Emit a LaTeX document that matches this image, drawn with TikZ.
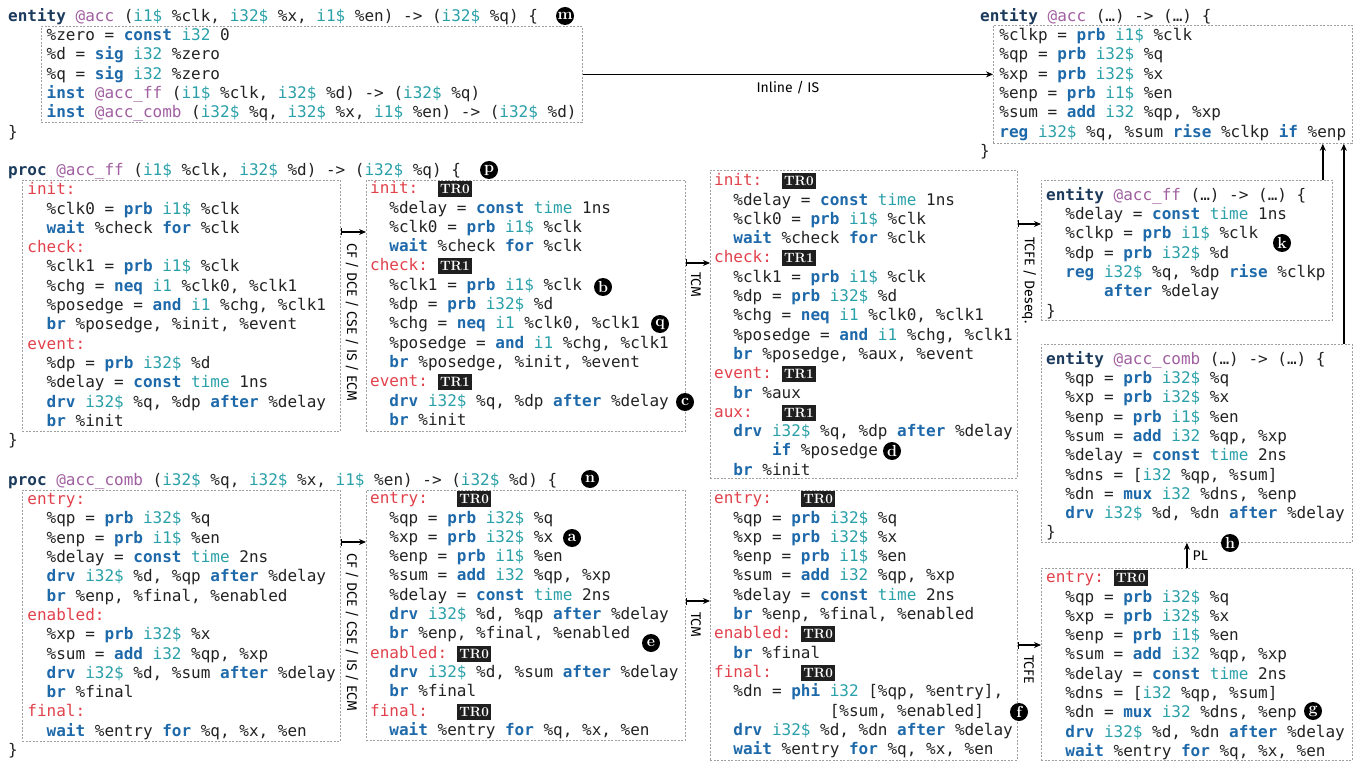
\documentclass[tikz,border=0pt]{standalone}
\usepackage{fontspec}
\usepackage{xcolor}
\usetikzlibrary{arrows.meta,positioning,calc}
\newfontfamily\codefont{DejaVu Sans Mono}
\newfontfamily\passfont{Fira Sans}
\definecolor{lnavy}{RGB}{27,58,92}
\definecolor{lblue}{RGB}{30,105,170}
\definecolor{lteal}{RGB}{42,160,168}
\definecolor{lpurple}{RGB}{160,95,160}
\definecolor{lred}{RGB}{225,65,75}
\definecolor{ltext}{RGB}{34,34,34}
\newlength{\cw}
\setlength{\cw}{9.633pt}
\newcommand{\ind}[1]{\hspace*{#1\cw}}
\newcommand{\hent}[1]{\textcolor{lnavy}{\bfseries #1}}
\newcommand{\hkw}[1]{\textcolor{lblue}{\bfseries #1}}
\newcommand{\hty}[1]{\textcolor{lteal}{#1}}
\newcommand{\hnm}[1]{\textcolor{lpurple}{#1}}
\newcommand{\hlb}[1]{\textcolor{lred}{#1}}
\newcommand{\htr}[1]{{\setlength{\fboxsep}{2.5pt}\colorbox{black!88}{\rule[-1pt]{0pt}{11pt}\textcolor{white}{\rmfamily\bfseries\fontsize{13.5}{13.5}\selectfont #1}}}}

\begin{document}
\begin{tikzpicture}[x=1pt, y=-1pt,
    code/.style={anchor=north west, inner sep=0pt, align=left, text=ltext,
        font=\codefont\fontsize{16}{19.3}\selectfont\frenchspacing,
        execute at begin node=\strut},
    codebox/.style={draw=gray!75, dash pattern=on 2pt off 1.5pt, line width=0.8pt,
        inner sep=0pt, anchor=north west},
    pass/.style={-{Stealth[length=7pt, width=6pt]}, line width=1.6pt},
    passbar/.style={{Bar[width=7pt]}-{Stealth[length=7pt, width=6pt]}, line width=1.6pt},
    passlbl/.style={font=\passfont\fontsize{14}{14}\selectfont, inner sep=0pt},
    tag/.style={circle, fill=black, text=white, inner sep=0pt, minimum size=18pt,
        font=\rmfamily\bfseries\fontsize{16}{16}\selectfont}
]
\useasboundingbox (0,0) rectangle (1359,767);

% Entity (top left)
\node[codebox, minimum width=541pt, minimum height=96pt] (bx-top) at (41,26) {};
\node[code] (src-acc) at (8,8) {\hent{entity} \hnm{@acc} (\hty{i1\$} \%clk, \hty{i32\$} \%x, \hty{i1\$} \%en) -> (\hty{i32\$} \%q) \{\\
\ind{4}\%zero = \hkw{const} \hty{i32} 0\\
\ind{4}\%d = \hkw{sig} \hty{i32} \%zero\\
\ind{4}\%q = \hkw{sig} \hty{i32} \%zero\\
\ind{4}\hkw{inst} \hnm{@acc\_ff} (\hty{i1\$} \%clk, \hty{i32\$} \%d) -> (\hty{i32\$} \%q)\\
\ind{4}\hkw{inst} \hnm{@acc\_comb} (\hty{i32\$} \%q, \hty{i32\$} \%x, \hty{i1\$} \%en) -> (\hty{i32\$} \%d)\\
\}};

% Result entity (top right)
\node[codebox, minimum width=359pt, minimum height=118pt] (bx-acc) at (993,25) {};
\node[code] (res-acc) at (980,8) {\hent{entity} \hnm{@acc} (…) -> (…) \{\\
\ind{2}\%clkp = \hkw{prb} \hty{i1\$} \%clk\\
\ind{2}\%qp = \hkw{prb} \hty{i32\$} \%q\\
\ind{2}\%xp = \hkw{prb} \hty{i32\$} \%x\\
\ind{2}\%enp = \hkw{prb} \hty{i1\$} \%en\\
\ind{2}\%sum = \hkw{add} \hty{i32} \%qp, \%xp\\
\ind{2}\hkw{reg} \hty{i32\$} \%q, \%sum \hkw{rise} \%clkp \hkw{if} \%enp\\
\}};

\draw[pass] (bx-top.east) -- (bx-top.east -| bx-acc.west)
    node[midway, below=6pt, passlbl] {Inline / IS};

% acc_ff row
\node[codebox, minimum width=318pt, minimum height=251pt] (bx-ff) at (22,180) {};
\node[code] (src-ff) at (8,163) {\hent{proc} \hnm{@acc\_ff} (\hty{i1\$} \%clk, \hty{i32\$} \%d) -> (\hty{i32\$} \%q) \{\\
\ind{2}\hlb{init:}\\
\ind{4}\%clk0 = \hkw{prb} \hty{i1\$} \%clk\\
\ind{4}\hkw{wait} \%check \hkw{for} \%clk\\
\ind{2}\hlb{check:}\\
\ind{4}\%clk1 = \hkw{prb} \hty{i1\$} \%clk\\
\ind{4}\%chg = \hkw{neq} \hty{i1} \%clk0, \%clk1\\
\ind{4}\%posedge = \hkw{and} \hty{i1} \%chg, \%clk1\\
\ind{4}\hkw{br} \%posedge, \%init, \%event\\
\ind{2}\hlb{event:}\\
\ind{4}\%dp = \hkw{prb} \hty{i32\$} \%d\\
\ind{4}\%delay = \hkw{const} \hty{time} 1ns\\
\ind{4}\hkw{drv} \hty{i32\$} \%q, \%dp \hkw{after} \%delay\\
\ind{4}\hkw{br} \%init\\
\}};

\node[codebox, minimum width=319pt, minimum height=251pt] (bx-ff1) at (366,180) {};
\node[code] (tr-ff) at (370,181) {\hlb{init:}\ind{2}\htr{TR0}\\
\ind{2}\%delay = \hkw{const} \hty{time} 1ns\\
\ind{2}\%clk0 = \hkw{prb} \hty{i1\$} \%clk\\
\ind{2}\hkw{wait} \%check \hkw{for} \%clk\\
\hlb{check:}\ind{1}\htr{TR1}\\
\ind{2}\%clk1 = \hkw{prb} \hty{i1\$} \%clk\\
\ind{2}\%dp = \hkw{prb} \hty{i32\$} \%d\\
\ind{2}\%chg = \hkw{neq} \hty{i1} \%clk0, \%clk1\\
\ind{2}\%posedge = \hkw{and} \hty{i1} \%chg, \%clk1\\
\ind{2}\hkw{br} \%posedge, \%init, \%event\\
\hlb{event:}\ind{1}\htr{TR1}\\
\ind{2}\hkw{drv} \hty{i32\$} \%q, \%dp \hkw{after} \%delay\\
\ind{2}\hkw{br} \%init};

\node[codebox, minimum width=307pt, minimum height=308pt] (bx-ff2) at (710,170) {};
\node[code] (tcm-ff) at (714,173) {\hlb{init:}\ind{2}\htr{TR0}\\
\ind{2}\%delay = \hkw{const} \hty{time} 1ns\\
\ind{2}\%clk0 = \hkw{prb} \hty{i1\$} \%clk\\
\ind{2}\hkw{wait} \%check \hkw{for} \%clk\\
\hlb{check:}\ind{1}\htr{TR1}\\
\ind{2}\%clk1 = \hkw{prb} \hty{i1\$} \%clk\\
\ind{2}\%dp = \hkw{prb} \hty{i32\$} \%d\\
\ind{2}\%chg = \hkw{neq} \hty{i1} \%clk0, \%clk1\\
\ind{2}\%posedge = \hkw{and} \hty{i1} \%chg, \%clk1\\
\ind{2}\hkw{br} \%posedge, \%aux, \%event\\
\hlb{event:}\ind{1}\htr{TR1}\\
\ind{2}\hkw{br} \%aux\\
\hlb{aux:}\ind{3}\htr{TR1}\\
\ind{2}\hkw{drv} \hty{i32\$} \%q, \%dp \hkw{after} \%delay\\
\ind{6}\hkw{if} \%posedge\\
\ind{2}\hkw{br} \%init};

\node[codebox, minimum width=291pt, minimum height=140pt] (bx-ffe) at (1041,180) {};
\node[code] (ent-ff) at (1046,187) {\hent{entity} \hnm{@acc\_ff} (…) -> (…) \{\\
\ind{2}\%delay = \hkw{const} \hty{time} 1ns\\
\ind{2}\%clkp = \hkw{prb} \hty{i1\$} \%clk\\
\ind{2}\%dp = \hkw{prb} \hty{i32\$} \%d\\
\ind{2}\hkw{reg} \hty{i32\$} \%q, \%dp \hkw{rise} \%clkp\\
\ind{6}\hkw{after} \%delay\\
\}};

\draw[passbar] ([yshift=-52pt]bx-ff.north east) -- ([yshift=-52pt]bx-ff1.north west);
\draw[passbar] ([yshift=-83pt]bx-ff1.north east) -- ([yshift=-83pt]bx-ff1.north east -| bx-ff2.west);
\draw[passbar] ([yshift=-54pt]bx-ff2.north east) -- ([yshift=-54pt]bx-ff2.north east -| bx-ffe.west);
\node[passlbl, rotate=-90, anchor=west] at (352,243) {CF / DCE / CSE / IS / ECM};
\node[passlbl, rotate=-90, anchor=west] at (696,272) {TCM};
\node[passlbl, rotate=-90, anchor=west] at (1029,237) {TCFE / Deseq.};

% acc_comb row
\node[codebox, minimum width=318pt, minimum height=251pt] (bx-comb) at (22,490) {};
\node[code] (src-comb) at (8,473) {\hent{proc} \hnm{@acc\_comb} (\hty{i32\$} \%q, \hty{i32\$} \%x, \hty{i1\$} \%en) -> (\hty{i32\$} \%d) \{\\
\ind{2}\hlb{entry:}\\
\ind{4}\%qp = \hkw{prb} \hty{i32\$} \%q\\
\ind{4}\%enp = \hkw{prb} \hty{i1\$} \%en\\
\ind{4}\%delay = \hkw{const} \hty{time} 2ns\\
\ind{4}\hkw{drv} \hty{i32\$} \%d, \%qp \hkw{after} \%delay\\
\ind{4}\hkw{br} \%enp, \%final, \%enabled\\
\ind{2}\hlb{enabled:}\\
\ind{4}\%xp = \hkw{prb} \hty{i32\$} \%x\\
\ind{4}\%sum = \hkw{add} \hty{i32} \%qp, \%xp\\
\ind{4}\hkw{drv} \hty{i32\$} \%d, \%sum \hkw{after} \%delay\\
\ind{4}\hkw{br} \%final\\
\ind{2}\hlb{final:}\\
\ind{4}\hkw{wait} \%entry \hkw{for} \%q, \%x, \%en\\
\}};

\node[codebox, minimum width=319pt, minimum height=250pt] (bx-comb1) at (366,490) {};
\node[code] (tr-comb) at (370,491) {\hlb{entry:}\ind{3}\htr{TR0}\\
\ind{2}\%qp = \hkw{prb} \hty{i32\$} \%q\\
\ind{2}\%xp = \hkw{prb} \hty{i32\$} \%x\\
\ind{2}\%enp = \hkw{prb} \hty{i1\$} \%en\\
\ind{2}\%sum = \hkw{add} \hty{i32} \%qp, \%xp\\
\ind{2}\%delay = \hkw{const} \hty{time} 2ns\\
\ind{2}\hkw{drv} \hty{i32\$} \%d, \%qp \hkw{after} \%delay\\
\ind{2}\hkw{br} \%enp, \%final, \%enabled\\
\hlb{enabled:}\ind{1}\htr{TR0}\\
\ind{2}\hkw{drv} \hty{i32\$} \%d, \%sum \hkw{after} \%delay\\
\ind{2}\hkw{br} \%final\\
\hlb{final:}\ind{3}\htr{TR0}\\
\ind{2}\hkw{wait} \%entry \hkw{for} \%q, \%x, \%en};

\node[codebox, minimum width=307pt, minimum height=270pt] (bx-comb2) at (710,490) {};
\node[code] (tcm-comb) at (714,491) {\hlb{entry:}\ind{3}\htr{TR0}\\
\ind{2}\%qp = \hkw{prb} \hty{i32\$} \%q\\
\ind{2}\%xp = \hkw{prb} \hty{i32\$} \%x\\
\ind{2}\%enp = \hkw{prb} \hty{i1\$} \%en\\
\ind{2}\%sum = \hkw{add} \hty{i32} \%qp, \%xp\\
\ind{2}\%delay = \hkw{const} \hty{time} 2ns\\
\ind{2}\hkw{br} \%enp, \%final, \%enabled\\
\hlb{enabled:}\ind{1}\htr{TR0}\\
\ind{2}\hkw{br} \%final\\
\hlb{final:}\ind{3}\htr{TR0}\\
\ind{2}\%dn = \hkw{phi} \hty{i32} [\%qp, \%entry],\\
\ind{12}[\%sum, \%enabled]\\
\ind{2}\hkw{drv} \hty{i32\$} \%d, \%dn \hkw{after} \%delay\\
\ind{2}\hkw{wait} \%entry \hkw{for} \%q, \%x, \%en};

\node[codebox, minimum width=311pt, minimum height=192pt] (bx-comb3) at (1041,568) {};
\node[code] (tcfe-comb) at (1046,570) {\hlb{entry:}\ind{1}\htr{TR0}\\
\ind{2}\%qp = \hkw{prb} \hty{i32\$} \%q\\
\ind{2}\%xp = \hkw{prb} \hty{i32\$} \%x\\
\ind{2}\%enp = \hkw{prb} \hty{i1\$} \%en\\
\ind{2}\%sum = \hkw{add} \hty{i32} \%qp, \%xp\\
\ind{2}\%delay = \hkw{const} \hty{time} 2ns\\
\ind{2}\%dns = [\hty{i32} \%qp, \%sum]\\
\ind{2}\%dn = \hkw{mux} \hty{i32} \%dns, \%enp\\
\ind{2}\hkw{drv} \hty{i32\$} \%d, \%dn \hkw{after} \%delay\\
\ind{2}\hkw{wait} \%entry \hkw{for} \%q, \%x, \%en};

\node[codebox, minimum width=311pt, minimum height=198pt] (bx-combe) at (1041,344) {};
\node[code] (ent-comb) at (1046,351) {\hent{entity} \hnm{@acc\_comb} (…) -> (…) \{\\
\ind{2}\%qp = \hkw{prb} \hty{i32\$} \%q\\
\ind{2}\%xp = \hkw{prb} \hty{i32\$} \%x\\
\ind{2}\%enp = \hkw{prb} \hty{i1\$} \%en\\
\ind{2}\%sum = \hkw{add} \hty{i32} \%qp, \%xp\\
\ind{2}\%delay = \hkw{const} \hty{time} 2ns\\
\ind{2}\%dns = [\hty{i32} \%qp, \%sum]\\
\ind{2}\%dn = \hkw{mux} \hty{i32} \%dns, \%enp\\
\ind{2}\hkw{drv} \hty{i32\$} \%d, \%dn \hkw{after} \%delay\\
\}};

\draw[passbar] ([yshift=-52pt]bx-comb.north east) -- ([yshift=-52pt]bx-comb1.north west);
\draw[passbar] ([yshift=-111pt]bx-comb1.north east) -- ([yshift=-111pt]bx-comb1.north east -| bx-comb2.west);
\draw[passbar] ([yshift=-155pt]bx-comb2.north east) -- ([yshift=-155pt]bx-comb2.north east -| bx-comb3.west);
\node[passlbl, rotate=-90, anchor=west] at (352,553) {CF / DCE / CSE / IS / ECM};
\node[passlbl, rotate=-90, anchor=west] at (696,612) {TCM};
\node[passlbl, rotate=-90, anchor=west] at (1029,655) {TCFE};

% up into the result
\draw[pass] ([xshift=-10pt]bx-comb3.north) -- ([xshift=-10pt]bx-comb3.north |- bx-combe.south)
    node[midway, right=5pt, passlbl] {PL};
\draw[pass] ([xshift=-10pt]bx-ffe.north east) -- ([xshift=-10pt]bx-ffe.north east |- bx-acc.south);
\draw[pass] ([xshift=-9pt]bx-combe.north east) -- ([xshift=-9pt]bx-combe.north east |- bx-acc.south);

% markers
\node[tag] (mk-m) at (565,16) {m};
\node[tag] (mk-p) at (489,170) {p};
\node[tag] (mk-n) at (590,479) {n};
\node[tag] (mk-b) at (603,287) {b};
\node[tag] (mk-q) at (660,324) {q};
\node[tag] (mk-c) at (685,402) {c};
\node[tag] (mk-d) at (892,451) {d};
\node[tag] (mk-k) at (1282,243) {k};
\node[tag] (mk-h) at (1230,543) {h};
\node[tag] (mk-a) at (572,538) {a};
\node[tag] (mk-e) at (651,643) {e};
\node[tag] (mk-f) at (1019,712) {f};
\node[tag] (mk-g) at (1313,711) {g};

\end{tikzpicture}
\end{document}
